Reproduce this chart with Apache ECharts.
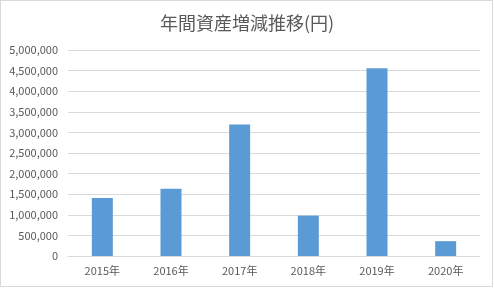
<!DOCTYPE html>
<html><head><meta charset="utf-8">
<script src="https://cdn.jsdelivr.net/npm/echarts@6/dist/echarts.min.js"></script>
<style>html,body{margin:0;padding:0;background:#fff}#c{width:494px;height:288px}
#frame{position:absolute;left:0;top:0;width:491px;height:285px;border:1px solid #d9d9d9;pointer-events:none}</style>
</head><body><div id="c"></div><div id="frame"></div>
<script>
const titleText = '年間資産増減推移(円)';
const categories = ['2015年','2016年','2017年','2018年','2019年','2020年'];
const values = [1410000, 1630000, 3190000, 980000, 4560000, 360000];
const yMin = 0, yMax = 5000000, yStep = 500000;

const chart = echarts.init(document.getElementById('c'));
chart.setOption({
  animation: false,
  title: {text: titleText, left: 'center', top: 9,
    textStyle: {fontFamily: 'Noto Sans CJK JP', fontSize: 18, fontWeight: 'normal', color: '#595959'}},
  grid: {left: 68, right: 14, top: 50, bottom: 32},
  xAxis: {type: 'category', data: categories,
    axisLine: {lineStyle: {color: '#d9d9d9'}}, axisTick: {show: false},
    axisLabel: {color: '#595959', fontSize: 11, fontFamily: 'Noto Sans CJK JP', margin: 9}},
  yAxis: {type: 'value', min: yMin, max: yMax, interval: yStep,
    axisLine: {show: false}, axisTick: {show: false},
    splitLine: {lineStyle: {color: '#d9d9d9'}},
    axisLabel: {color: '#595959', fontSize: 11, fontFamily: 'Noto Sans CJK JP', margin: 10,
      formatter: v => v.toLocaleString('en-US')}},
  series: [{type: 'bar', data: values, barWidth: 21, itemStyle: {color: '#5b9bd5'}}]
});
</script></body></html>
